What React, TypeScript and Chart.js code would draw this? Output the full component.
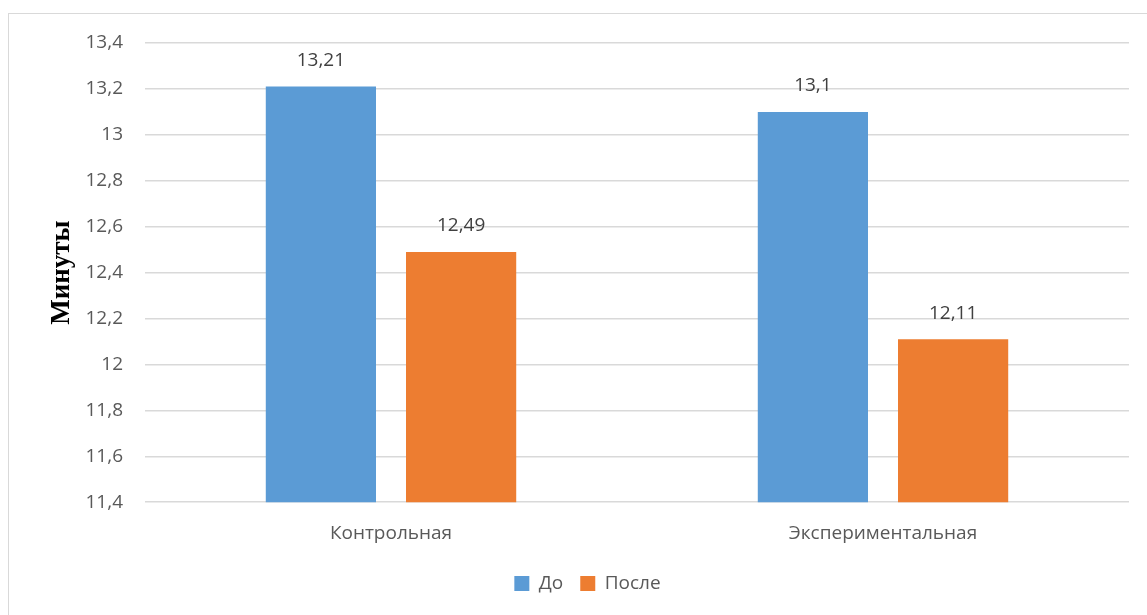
import React, { useEffect, useRef } from "react";
import { Chart, registerables } from "chart.js";

Chart.register(...registerables);

const categories = ["Контрольная", "Экспериментальная"];
const seriesNames = ["До", "После"];
const beforeValues = [13.21, 13.1];
const afterValues = [12.49, 12.11];
const seriesColors = ["#5B9BD5", "#ED7D31"];
const yTitle = "Минуты";
const yMin = 11.4;
const yMax = 13.4;
const yStep = 0.2;

const fmt = (v: number) => String(Math.round(v * 100) / 100).replace(".", ",");
const FONT = "'Open Sans'";

const dataLabels = {
  id: "dataLabels",
  afterDatasetsDraw(chart: any) {
    const ctx = chart.ctx;
    ctx.save();
    ctx.font = "19px 'Open Sans'";
    ctx.fillStyle = "#404040";
    ctx.textAlign = "center";
    ctx.textBaseline = "middle";
    chart.data.datasets.forEach((ds: any, i: number) => {
      const meta = chart.getDatasetMeta(i);
      meta.data.forEach((bar: any, j: number) => {
        ctx.fillText(fmt(ds.data[j]), bar.x, bar.y - 26);
      });
    });
    ctx.restore();
  },
};

export default function App() {
  const ref = useRef<HTMLCanvasElement | null>(null);
  useEffect(() => {
    if (!ref.current) return;
    const chart = new Chart(ref.current, {
      type: "bar",
      data: {
        labels: categories,
        datasets: [
          { label: seriesNames[0], data: beforeValues, backgroundColor: seriesColors[0] },
          { label: seriesNames[1], data: afterValues, backgroundColor: seriesColors[1] },
        ],
      },
      plugins: [dataLabels],
      options: {
        responsive: false,
        animation: false,
        layout: { padding: { left: 37, right: 40, top: 29, bottom: 12 } },
        datasets: { bar: { categoryPercentage: 0.57, barPercentage: 0.786 } },
        plugins: {
          legend: {
            position: "bottom",
            labels: {
              boxWidth: 15,
              boxHeight: 15,
              color: "#595959",
              font: { family: FONT, size: 19 },
              padding: 17,
            },
          },
          tooltip: { enabled: false },
        },
        scales: {
          x: {
            grid: { display: false },
            border: { display: false },
            ticks: { color: "#595959", font: { family: FONT, size: 19 }, padding: 12 },
          },
          y: {
            min: yMin,
            max: yMax,
            ticks: {
              stepSize: yStep,
              color: "#595959",
              font: { family: FONT, size: 19 },
              padding: 22,
              callback: (v: any) => String(Math.round(Number(v) * 10) / 10).replace(".", ","),
            },
            grid: { color: "#d9d9d9", lineWidth: 1.5, drawTicks: false },
            border: { display: false },
            title: {
              display: true,
              text: yTitle,
              color: "#000000",
              font: { family: "'Liberation Serif'", size: 27, weight: "bold" },
              padding: { top: 0, bottom: 6 },
            },
            afterFit: (scale: any) => {
              scale.width = 99;
              scale.paddingTop = 0;
            },
          },
        },
      },
    });
    return () => chart.destroy();
  }, []);
  return (
    <div
      style={{
        position: "fixed",
        left: 8,
        top: 13,
        width: 1160,
        height: 610,
        border: "1px solid #d9d9d9",
        background: "#fff",
      }}
    >
      <canvas ref={ref} width={1160} height={601} style={{ display: "block" }} />
    </div>
  );
}
